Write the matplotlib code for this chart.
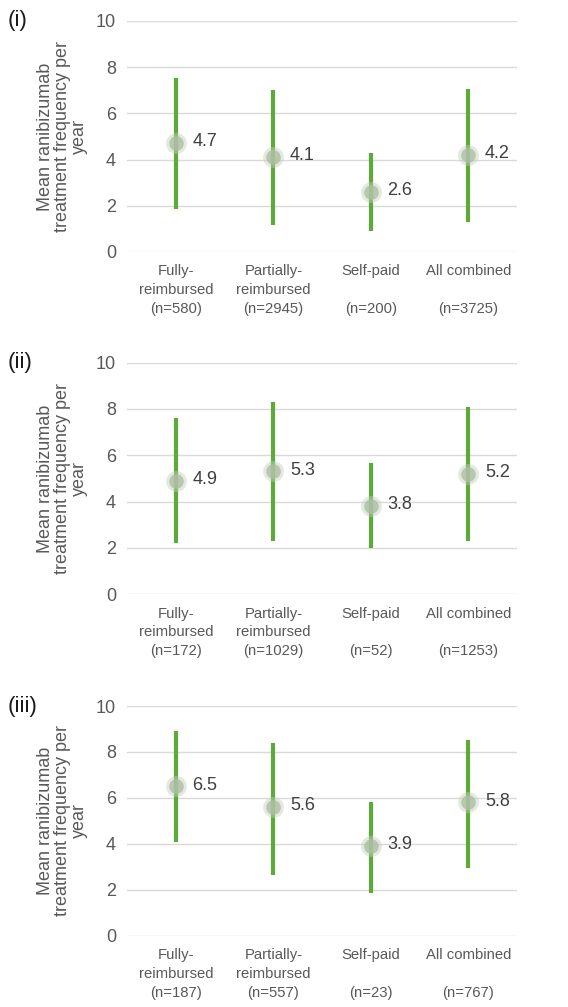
import matplotlib
matplotlib.use("Agg")
import matplotlib.pyplot as plt
import numpy as np

plt.rcParams['font.family'] = ['Liberation Sans', 'DejaVu Sans']

# DATA

panel_tags = ["(i)", "(ii)", "(iii)"]
groups = ["Fully-\nreimbursed", "Partially-\nreimbursed", "Self-paid\n", "All combined\n"]

n_i = [580, 2945, 200, 3725]
n_ii = [172, 1029, 52, 1253]
n_iii = [187, 557, 23, 767]

mean_i = [4.7, 4.1, 2.6, 4.2]
mean_ii = [4.9, 5.3, 3.8, 5.2]
mean_iii = [6.5, 5.6, 3.9, 5.8]

low_i = [1.85, 1.15, 0.9, 1.3]
high_i = [7.55, 7.0, 4.3, 7.05]
low_ii = [2.2, 2.3, 2.0, 2.3]
high_ii = [7.6, 8.3, 5.65, 8.1]
low_iii = [4.1, 2.65, 1.85, 2.95]
high_iii = [8.9, 8.4, 5.8, 8.5]

yticks = [0, 2, 4, 6, 8, 10]
ylabel = "Mean ranibizumab\ntreatment frequency per\nyear"

#%%

green = '#5fa83a'
grid_c = '#d9d9d9'
txt_c = '#595959'

fig = plt.figure(figsize=(5.68, 10.07), dpi=100)

# axes boxes (left, bottom, width, height) in figure fraction
boxes = [(0.2236, 0.7498, 0.687, 0.2294),
         (0.2236, 0.4101, 0.687, 0.2297),
         (0.2236, 0.0708, 0.687, 0.2281)]

panels = [(mean_i, low_i, high_i, n_i),
          (mean_ii, low_ii, high_ii, n_ii),
          (mean_iii, low_iii, high_iii, n_iii)]

for k in range(3):
    ax = fig.add_axes(boxes[k])
    means, lows, highs, ns = panels[k]
    x = np.arange(len(groups))

    # range lines
    ax.vlines(x, lows, highs, color=green, linewidth=3.0, zorder=3)

    # glow + marker
    ax.plot(x, means, 'o', ms=15, color='#c4d0bc', alpha=0.45, mec='none', zorder=4)
    ax.plot(x, means, 'o', ms=10.5, color='#adbfa3', alpha=0.8, mec='none', zorder=5)

    for xi, m in zip(x, means):
        ax.annotate(f"{m}", (xi, m), xytext=(12, 1), textcoords='offset points',
                    va='center', ha='left', fontsize=13, color='#404040')

    ax.set_xlim(-0.5, 3.5)
    ax.set_ylim(0, 10)
    ax.set_yticks(yticks)
    ax.yaxis.grid(True, color=grid_c, linewidth=1)
    ax.set_axisbelow(True)
    for s in ax.spines.values():
        s.set_visible(False)
    ax.tick_params(axis='both', length=0, colors=txt_c)
    ax.tick_params(axis='y', labelsize=13, pad=8)
    ax.set_xticks(x)
    ax.set_xticklabels([f"{g}\n(n={n})" for g, n in zip(groups, ns)],
                       fontsize=10.7, color=txt_c, linespacing=1.45)
    ax.tick_params(axis='x', pad=9)

    ax.set_ylabel(ylabel, fontsize=13, color=txt_c, linespacing=0.98, labelpad=6)

    ax.text(-0.305, 1.0, panel_tags[k], transform=ax.transAxes,
            fontsize=16, color='#1a1a1a', ha='left', va='center')

fig.savefig("out.png", dpi=100)
